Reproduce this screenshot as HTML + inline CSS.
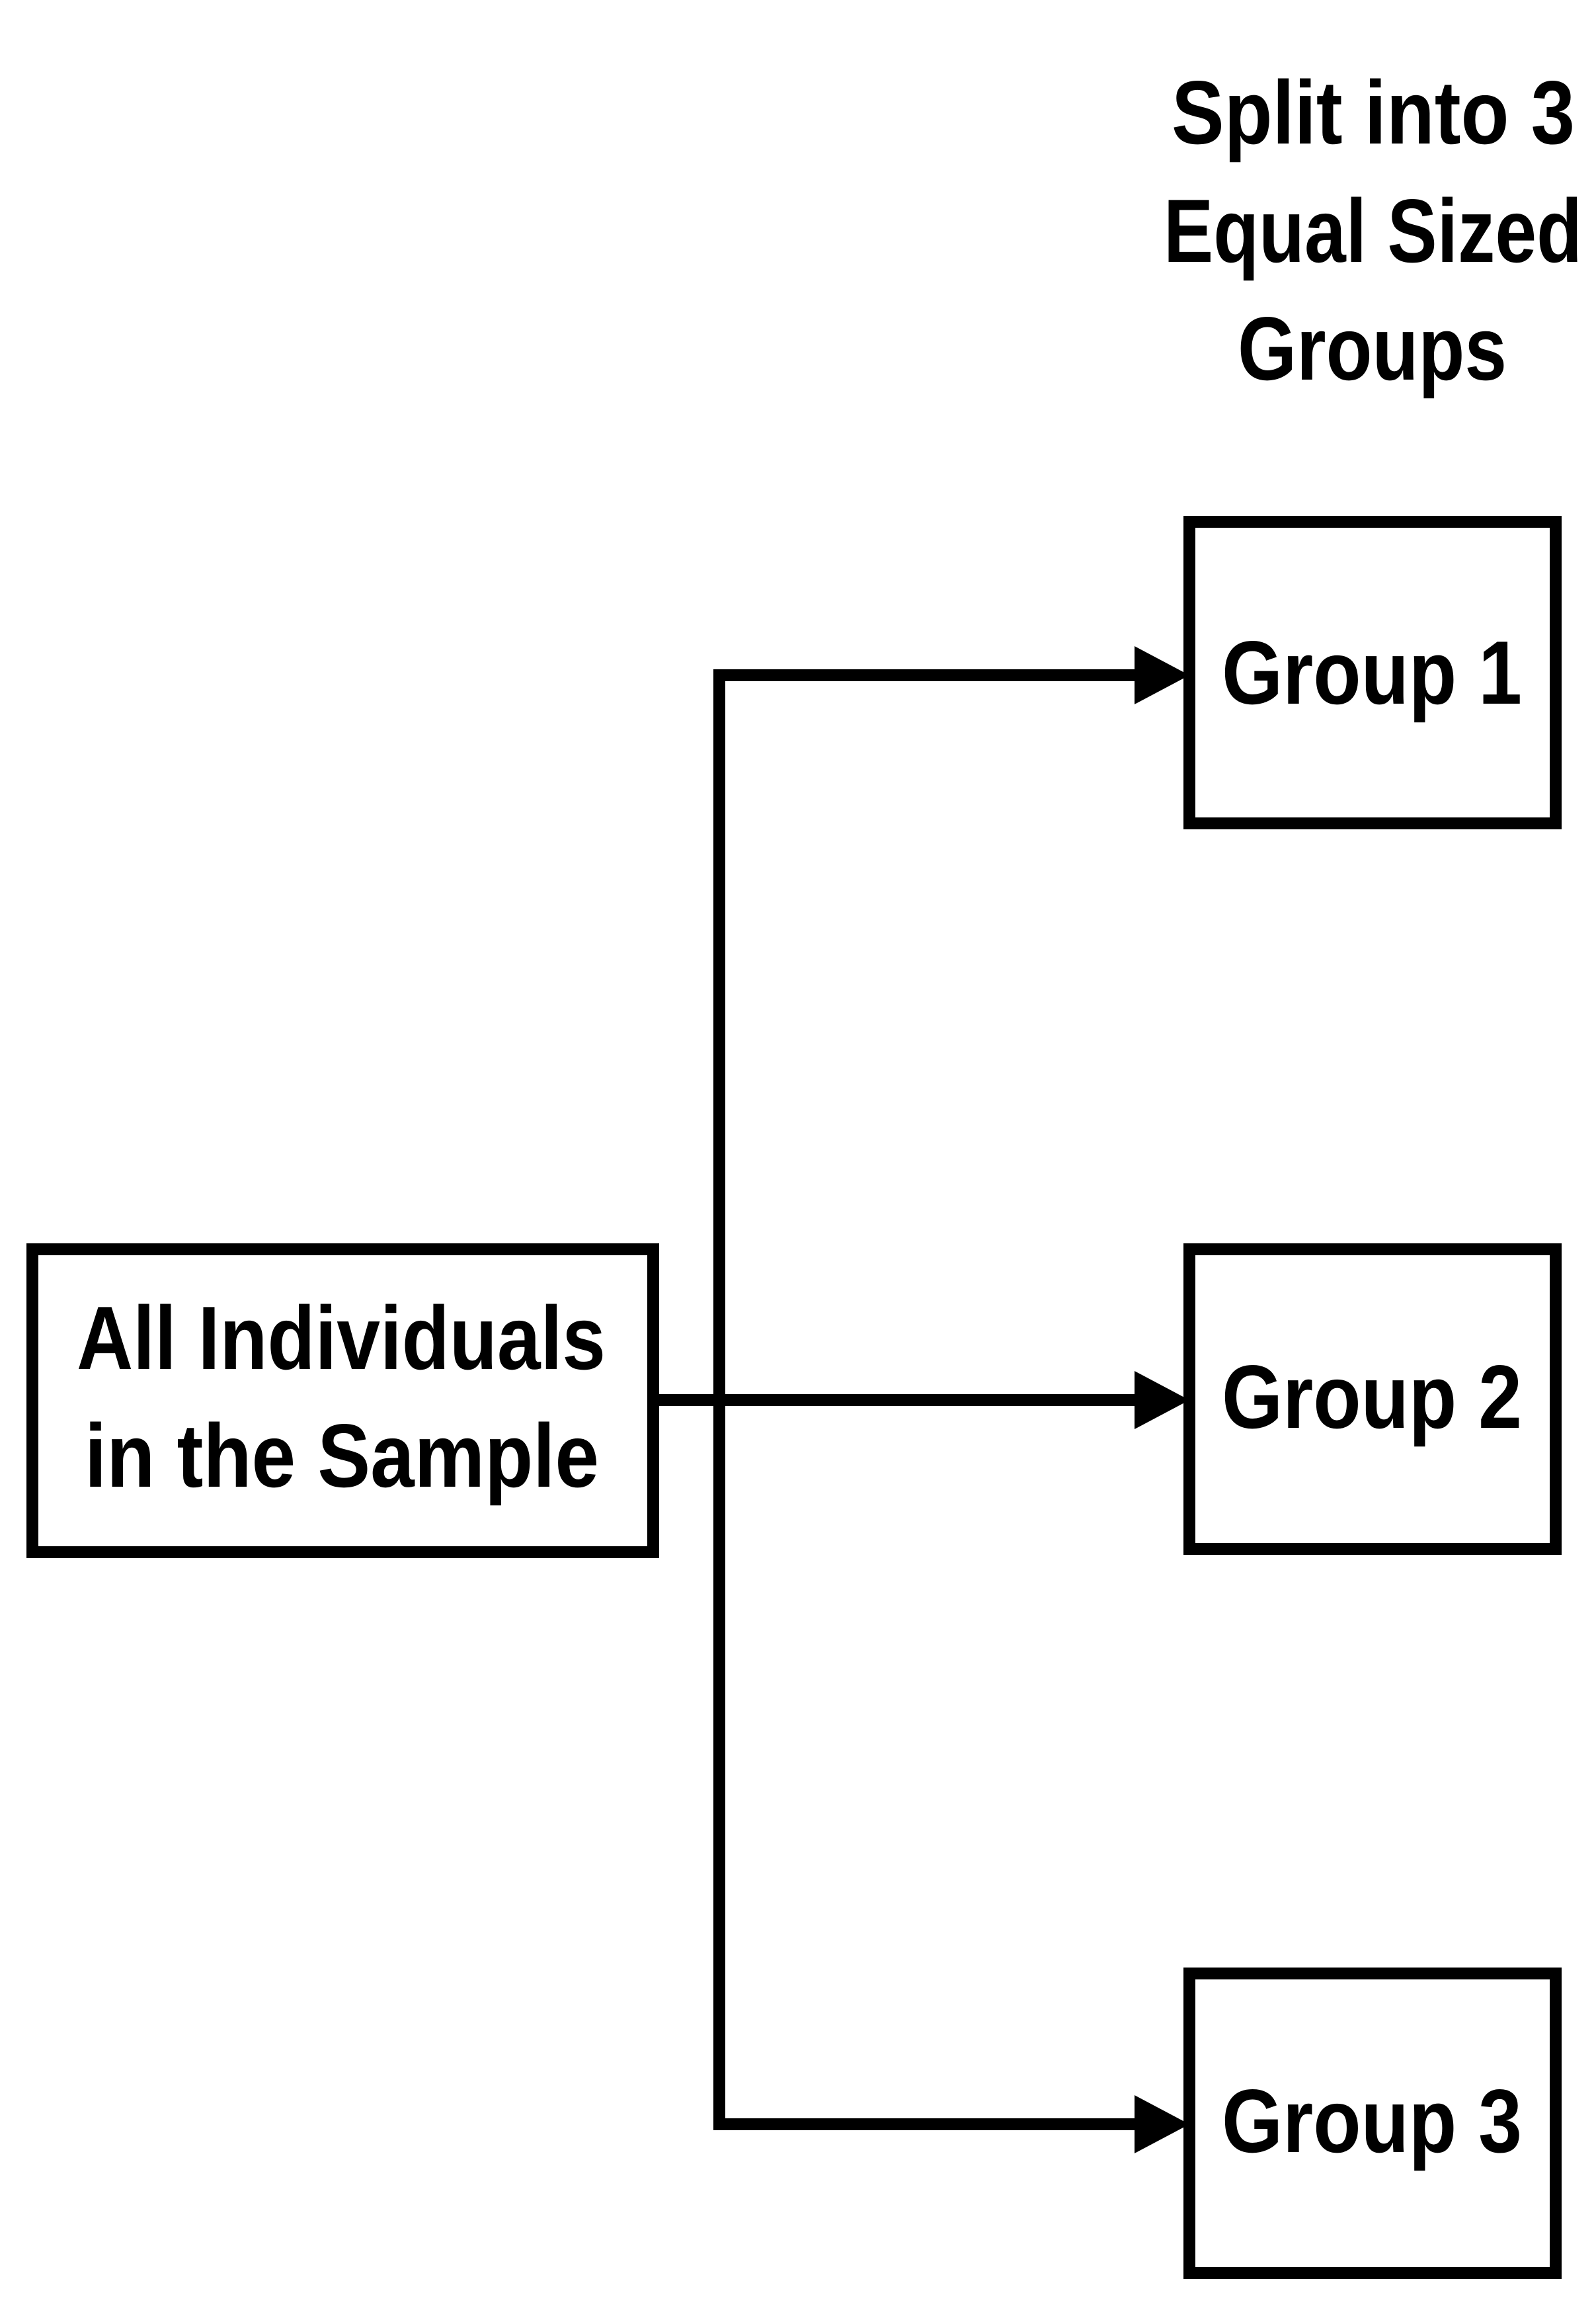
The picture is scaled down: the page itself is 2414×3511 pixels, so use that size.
<!DOCTYPE html>
<html><head><meta charset="utf-8"><style>html,body{margin:0;padding:0;background:#fff}svg{display:block}</style></head>
<body>
<svg width="2414" height="3511" viewBox="0 0 2414 3511" xmlns="http://www.w3.org/2000/svg">
<g fill="none" stroke="#000" stroke-width="18" stroke-linejoin="miter">
<rect x="49" y="1889" width="939" height="458"/>
<rect x="1799" y="789" width="554" height="456"/>
<rect x="1799" y="1889" width="554" height="453"/>
<rect x="1799" y="2984" width="554" height="453"/>
<polyline points="1730,1021 1088,1021 1088,3212 1730,3212"/>
<line x1="988" y1="2117" x2="1730" y2="2117"/>
</g>
<g fill="#000">
<polygon points="1716,977 1799,1021 1716,1065"/>
<polygon points="1716,2073 1799,2117 1716,2161"/>
<polygon points="1716,3168 1799,3212 1716,3256"/>
</g>
<g font-family="Liberation Sans, sans-serif" font-weight="bold" font-size="136" fill="#000">
<text x="1772" y="217" textLength="610" lengthAdjust="spacingAndGlyphs">Split into 3</text>
<text x="1760" y="396" textLength="633" lengthAdjust="spacingAndGlyphs">Equal Sized</text>
<text x="1872" y="574" textLength="407" lengthAdjust="spacingAndGlyphs">Groups</text>
<text x="1848" y="1064" textLength="454" lengthAdjust="spacingAndGlyphs">Group 1</text>
<text x="1848" y="2159" textLength="454" lengthAdjust="spacingAndGlyphs">Group 2</text>
<text x="1848" y="3254" textLength="454" lengthAdjust="spacingAndGlyphs">Group 3</text>
<text x="116" y="2070" textLength="800" lengthAdjust="spacingAndGlyphs">All Individuals</text>
<text x="128" y="2248" textLength="778" lengthAdjust="spacingAndGlyphs">in the Sample</text>
</g>
</svg>
</body></html>
